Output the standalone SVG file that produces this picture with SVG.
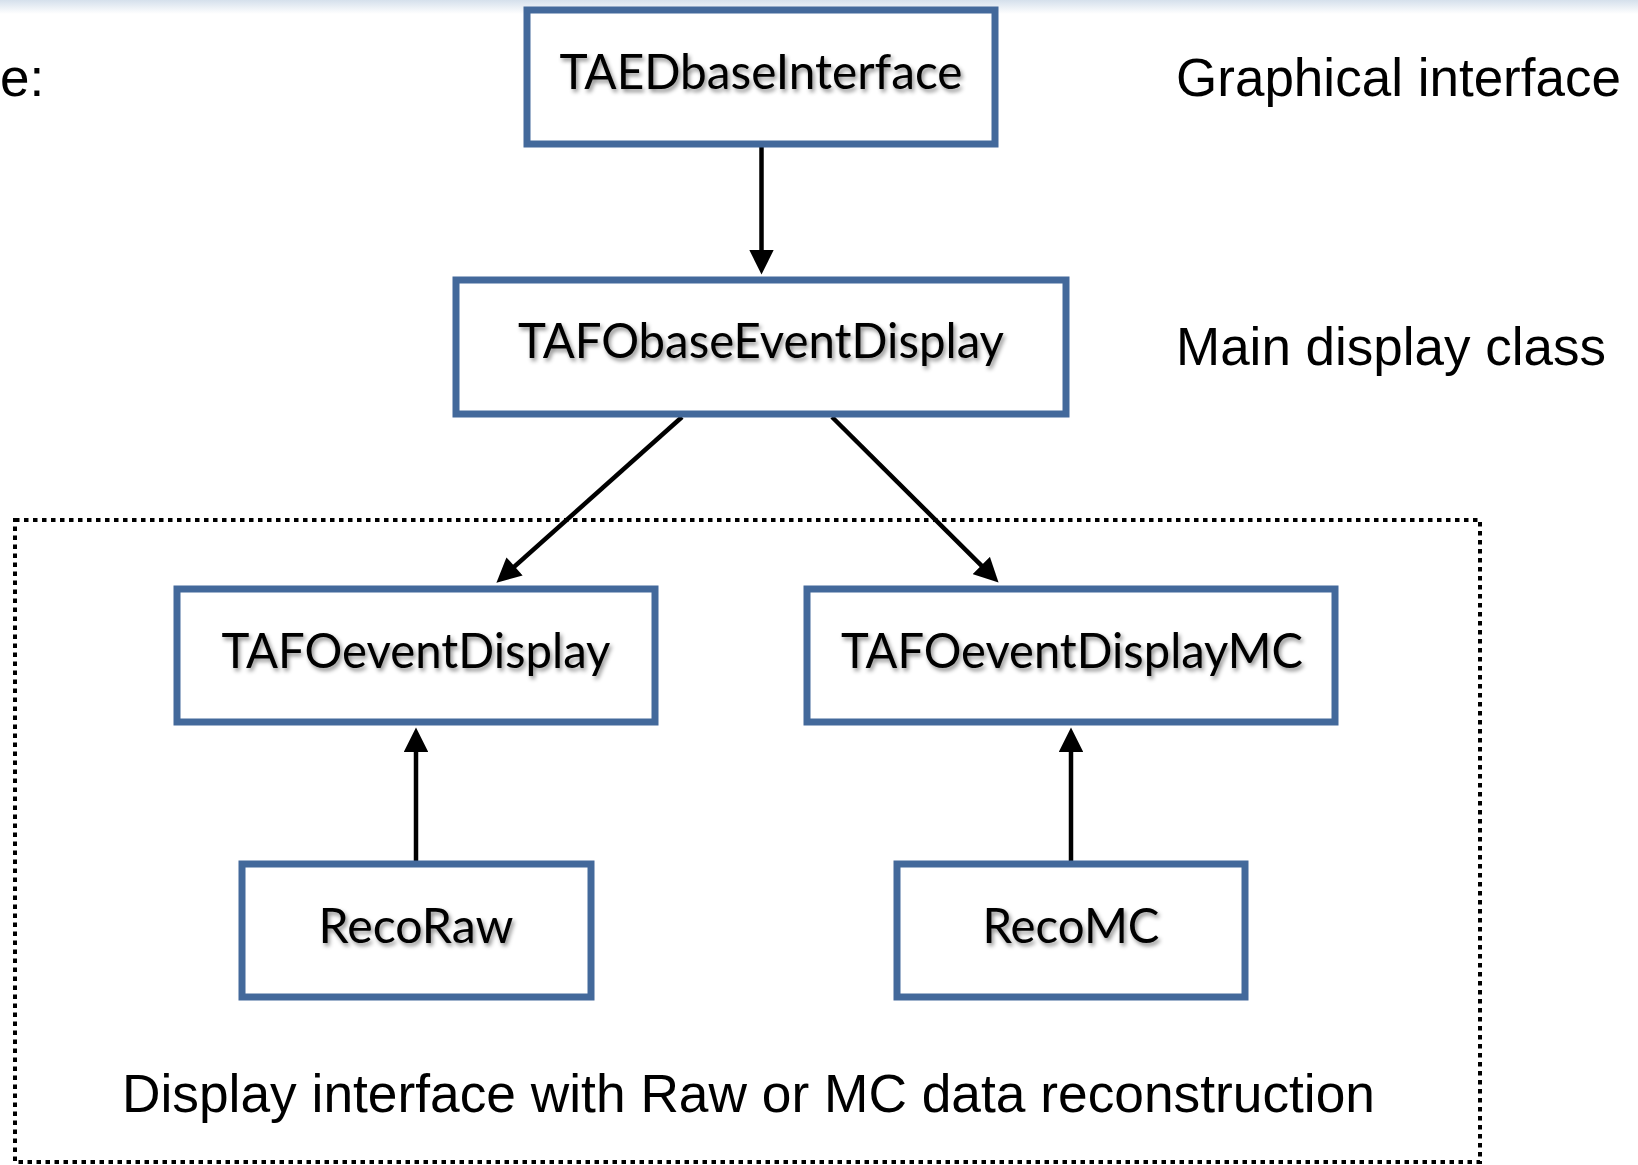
<svg xmlns="http://www.w3.org/2000/svg" width="1638" height="1165" viewBox="0 0 1638 1165">
  <defs>
    <linearGradient id="topband" x1="0" y1="0" x2="0" y2="1">
      <stop offset="0" stop-color="#d5e0ec"/>
      <stop offset="1" stop-color="#ffffff"/>
    </linearGradient>
    <filter id="soft" x="-10%" y="-40%" width="120%" height="180%">
      <feDropShadow dx="2" dy="3" stdDeviation="2.2" flood-color="#000" flood-opacity="0.45"/>
    </filter>
    <!-- head starts 3 units before the line end so the tip stays sharp -->
    <marker id="arrow" viewBox="0 0 10 10" refX="3" refY="5" markerWidth="5.6" markerHeight="5.4" markerUnits="strokeWidth" orient="auto">
      <path d="M0,0 L10,5 L0,10 z" fill="#000"/>
    </marker>
    <style>
      .box { fill: #ffffff; stroke: #43699b; stroke-width: 7; }
      .label { font-family: Lato, "Open Sans", sans-serif; font-size: 48px; fill: #000; text-anchor: middle; filter: url(#soft); }
      .note { font-family: "Liberation Sans", Arial, sans-serif; font-size: 53px; fill: #000; }
      .conn { stroke: #000; stroke-width: 4.5; fill: none; marker-end: url(#arrow); }
      .group { fill: none; stroke: #000; stroke-width: 4; stroke-dasharray: 4.5 4.5; }
    </style>
  </defs>

  <rect x="0" y="0" width="1638" height="1165" fill="#ffffff"/>
  <rect x="0" y="0" width="1638" height="14" fill="url(#topband)"/>

  <!-- dotted grouping frame -->
  <rect class="group" x="15" y="520" width="1465" height="642"/>

  <!-- side notes -->
  <text class="note" x="0" y="96">e:</text>
  <text class="note" x="1176" y="96" textLength="445" lengthAdjust="spacingAndGlyphs">Graphical interface</text>
  <text class="note" x="1176" y="365" textLength="430" lengthAdjust="spacingAndGlyphs">Main display class</text>
  <text class="note" x="122" y="1112" textLength="1253" lengthAdjust="spacingAndGlyphs">Display interface with Raw or MC data reconstruction</text>

  <!-- connectors -->
  <g id="connectors">
    <line class="conn" x1="761.5" y1="147" x2="761.5" y2="257.4"/>
    <line class="conn" x1="682" y1="417" x2="509.1" y2="571.3"/>
    <line class="conn" x1="832" y1="417" x2="986.5" y2="570.6"/>
    <line class="conn" x1="416" y1="861" x2="416" y2="744.6"/>
    <line class="conn" x1="1071" y1="861" x2="1071" y2="744.6"/>
  </g>

  <g id="TAEDbaseInterface">
    <rect class="box" x="527" y="10" width="468" height="134"/>
    <text class="label" x="761" y="89" textLength="403" lengthAdjust="spacingAndGlyphs">TAEDbaseInterface</text>
  </g>

  <g id="TAFObaseEventDisplay">
    <rect class="box" x="456" y="280" width="610" height="134"/>
    <text class="label" x="761" y="358" textLength="486" lengthAdjust="spacingAndGlyphs">TAFObaseEventDisplay</text>
  </g>

  <g id="TAFOeventDisplay">
    <rect class="box" x="177" y="589" width="478" height="133"/>
    <text class="label" x="416" y="668" textLength="389" lengthAdjust="spacingAndGlyphs">TAFOeventDisplay</text>
  </g>

  <g id="TAFOeventDisplayMC">
    <rect class="box" x="807" y="589" width="528" height="133"/>
    <text class="label" x="1072" y="668" textLength="462" lengthAdjust="spacingAndGlyphs">TAFOeventDisplayMC</text>
  </g>

  <g id="RecoRaw">
    <rect class="box" x="242" y="864" width="349" height="133"/>
    <text class="label" x="416" y="943" textLength="195" lengthAdjust="spacingAndGlyphs">RecoRaw</text>
  </g>

  <g id="RecoMC">
    <rect class="box" x="897" y="864" width="348" height="133"/>
    <text class="label" x="1071" y="943" textLength="177" lengthAdjust="spacingAndGlyphs">RecoMC</text>
  </g>
</svg>
